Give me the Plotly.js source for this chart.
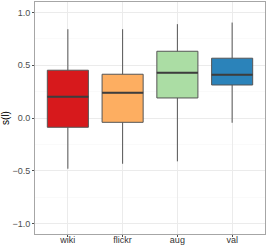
<!DOCTYPE html>
<html>
<head>
<meta charset="utf-8">
<script src="https://cdn.plot.ly/plotly-3.0.1.min.js"></script>
<style>html,body{margin:0;padding:0;background:#fff;}#chart{width:266px;height:245px;}</style>
</head>
<body>
<div id="chart"></div>
<script>
var categories = ["wiki", "flickr", "aug", "val"];
var lowerWhisker = [-0.481, -0.434, -0.411, -0.045];
var q1Values = [-0.088, -0.041, 0.19, 0.313];
var medianValues = [0.202, 0.240, 0.430, 0.411];
var q3Values = [0.453, 0.415, 0.633, 0.567];
var upperWhisker = [0.842, 0.842, 0.890, 0.905];
var fillColors = ["#d7191c", "#fdae61", "#abdda4", "#2b83ba"];
var yTickVals = [-1.0, -0.5, 0.0, 0.5, 1.0];
var yTickText = ["\u22121.0", "\u22120.5", "0.0", "0.5", "1.0"];

var boxWidth = 0.75;
var traces = categories.map(function (c, i) {
  return {
    type: "box",
    x: [c],
    q1: [q1Values[i]],
    median: [medianValues[i]],
    q3: [q3Values[i]],
    lowerfence: [lowerWhisker[i]],
    upperfence: [upperWhisker[i]],
    width: boxWidth,
    whiskerwidth: 0,
    fillcolor: fillColors[i],
    line: { color: "#555555", width: 1 },
    showlegend: false,
    hoverinfo: "skip"
  };
});

var shapes = categories.map(function (c, i) {
  return {
    type: "line", xref: "x", yref: "y",
    x0: i - boxWidth / 2, x1: i + boxWidth / 2,
    y0: medianValues[i], y1: medianValues[i],
    line: { color: "#3d3d3d", width: 2 }
  };
});

var layout = {
  width: 266, height: 245,
  margin: { l: 35, r: 1, t: 2, b: 11, autoexpand: false },
  paper_bgcolor: "#ffffff", plot_bgcolor: "#ffffff",
  font: { family: "Liberation Sans, Arial, sans-serif", size: 9, color: "#4d4d4d" },
  shapes: shapes,
  xaxis: {
    type: "category",
    categoryorder: "array", categoryarray: categories,
    range: [-0.6, 3.6],
    automargin: false,
    showgrid: true, gridcolor: "#ebebeb", gridwidth: 1,
    showline: true, linecolor: "#a6a6a6", linewidth: 1, mirror: true,
    ticks: "outside", ticklen: 2, tickcolor: "#4d4d4d",
    ticklabelstandoff: -5,
    tickfont: { size: 9, color: "#333333" },
    zeroline: false, fixedrange: true
  },
  yaxis: {
    range: [-1.1, 1.1],
    automargin: false,
    tickvals: yTickVals, ticktext: yTickText,
    showgrid: true, gridcolor: "#ebebeb", gridwidth: 1,
    minor: { dtick: 0.25, tick0: 0, showgrid: true, gridcolor: "#f5f5f5", gridwidth: 0.5 },
    showline: true, linecolor: "#a6a6a6", linewidth: 1, mirror: true,
    ticks: "outside", ticklen: 2, tickcolor: "#4d4d4d",
    tickfont: { size: 9, color: "#4d4d4d" },
    zeroline: false,
    title: { text: "s(l)", font: { size: 10, color: "#000000" }, standoff: 4 },
    fixedrange: true
  }
};

Plotly.newPlot("chart", traces, layout, { displayModeBar: false, staticPlot: true });
</script>
</body>
</html>
